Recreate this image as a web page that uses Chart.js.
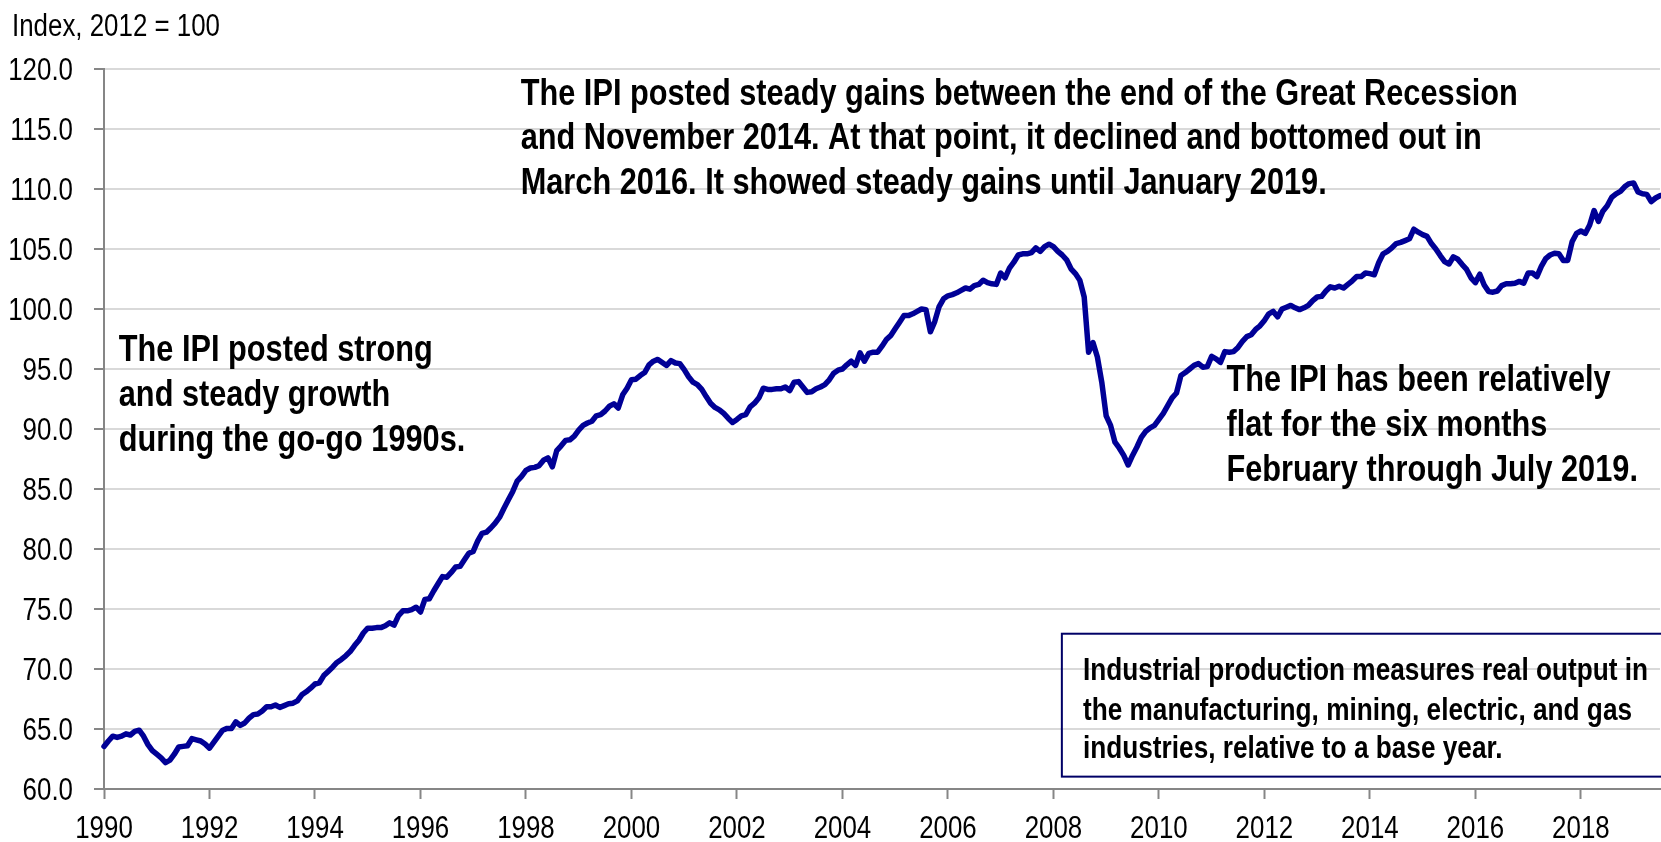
<!DOCTYPE html>
<html>
<head>
<meta charset="utf-8">
<script src="https://cdn.jsdelivr.net/npm/chart.js@4.4.1/dist/chart.umd.min.js"></script>
<style>
  html, body { margin: 0; padding: 0; background: #fff; }
  canvas { display: block; }
</style>
</head>
<body>
<canvas id="ipiCanvas" width="1661" height="842"></canvas>
<script>
// monthly index values, Jan 1990 .. Jul 2019 (2012 = 100)
const startYear = 1990;
const ipi1990s = [
  63.55, 64.0, 64.4, 64.3, 64.4, 64.6, 64.5, 64.8, 64.9, 64.4, 63.7, 63.2,
  62.9, 62.6, 62.2, 62.4, 62.9, 63.5, 63.55, 63.6, 64.2, 64.1, 64.0, 63.75,
  63.4, 63.9, 64.4, 64.9, 65.05, 65.05, 65.6, 65.3, 65.5, 65.9, 66.2, 66.25,
  66.5, 66.85, 66.85, 67.0, 66.8, 66.95, 67.1, 67.15, 67.35, 67.85, 68.1, 68.4,
  68.75, 68.85, 69.45, 69.8, 70.15, 70.55, 70.8, 71.1, 71.45, 71.95, 72.4, 73.0,
  73.4, 73.4, 73.45, 73.45, 73.6, 73.85, 73.65, 74.45, 74.85, 74.85, 74.95, 75.15,
  74.75, 75.8, 75.85, 76.5, 77.1, 77.7, 77.65, 78.05, 78.5, 78.55, 79.1, 79.65,
  79.8, 80.65, 81.3, 81.4, 81.75, 82.15, 82.65, 83.4, 84.1, 84.8, 85.65, 86.05,
  86.55, 86.75, 86.8, 86.95, 87.4, 87.6, 86.85, 88.2, 88.6, 89.05, 89.1, 89.4,
  89.9, 90.3, 90.5, 90.65, 91.1, 91.2, 91.5, 91.9, 92.1, 91.75, 92.85, 93.4
];
const ipi2000s = [
  94.1, 94.15, 94.45, 94.7, 95.35, 95.65, 95.8, 95.55, 95.3, 95.7, 95.5, 95.45,
  94.95, 94.35, 93.9, 93.7, 93.3, 92.7, 92.15, 91.8, 91.6, 91.3, 90.9, 90.55,
  90.8, 91.1, 91.2, 91.85, 92.15, 92.6, 93.4, 93.3, 93.3, 93.35, 93.35, 93.5,
  93.2, 93.9, 93.95, 93.5, 93.05, 93.1, 93.35, 93.5, 93.7, 94.1, 94.65, 94.9,
  95.0, 95.35, 95.65, 95.3, 96.35, 95.65, 96.3, 96.4, 96.4, 96.9, 97.45, 97.8,
  98.35, 98.9, 99.45, 99.45, 99.6, 99.8, 100.0, 99.95, 98.1, 98.95, 100.2, 100.85,
  101.1, 101.2, 101.35, 101.55, 101.75, 101.65, 101.95, 102.05, 102.4, 102.2, 102.1, 102.05,
  103.0, 102.6, 103.4, 103.9, 104.5, 104.6, 104.6, 104.7, 105.1, 104.8, 105.2, 105.4,
  105.2, 104.8, 104.5, 104.1, 103.35, 102.95, 102.4, 101.0, 96.4, 97.2, 96.0, 93.9,
  91.1, 90.3, 88.9, 88.4, 87.8, 87.0, 87.8, 88.5, 89.3, 89.8, 90.1, 90.3
];
const ipi2010s = [
  90.8, 91.3, 91.95, 92.6, 93.0, 94.45, 94.7, 95.0, 95.3, 95.45, 95.15, 95.2,
  96.05, 95.85, 95.55, 96.45, 96.4, 96.45, 96.8, 97.3, 97.7, 97.85, 98.3, 98.6,
  99.05, 99.6, 99.8, 99.35, 100.0, 100.15, 100.3, 100.1, 99.95, 100.1, 100.3, 100.7,
  101.0, 101.05, 101.5, 101.85, 101.75, 101.9, 101.75, 102.05, 102.35, 102.7, 102.7, 103.0,
  102.95, 102.85, 103.85, 104.6, 104.8, 105.1, 105.45, 105.55, 105.7, 105.85, 106.65, 106.4,
  106.2, 106.05, 105.45, 105.0, 104.45, 103.95, 103.75, 104.35, 104.15, 103.7, 103.3, 102.6,
  102.2, 102.9, 102.0, 101.45, 101.4, 101.5, 101.95, 102.1, 102.1, 102.15, 102.3, 102.15,
  103.0, 103.0, 102.7, 103.55, 104.2, 104.5, 104.65, 104.6, 104.05, 104.05, 105.6, 106.3,
  106.5, 106.3, 107.0, 108.2, 107.3, 108.15, 108.6, 109.3, 109.6, 109.8, 110.2, 110.45,
  110.5, 109.75, 109.6, 109.55, 108.95, 109.25, 109.45
];

const xTicks = [1990, 1992, 1994, 1996, 1998, 2000, 2002, 2004, 2006, 2008, 2010, 2012, 2014, 2016, 2018];
const yTicks = [60, 65, 70, 75, 80, 85, 90, 95, 100, 105, 110, 115, 120];

const unitLabel = 'Index, 2012 = 100';
const noteNineties = ['The IPI posted strong', 'and steady growth', 'during the go-go 1990s.'];
const noteRecovery = [
  'The IPI posted steady gains between the end of the Great Recession',
  'and November 2014. At that point, it declined and bottomed out in',
  'March 2016. It showed steady gains until January 2019.'
];
const noteFlat = ['The IPI has been relatively', 'flat for the six months', 'February through July 2019.'];
const boxNote = [
  'Industrial production measures real output in',
  'the manufacturing, mining, electric, and gas',
  'industries, relative to a base year.'
];

// no Arial Narrow here: squeeze Liberation Sans horizontally instead
const FAMILY = "'Liberation Sans', Arial, sans-serif";
const NARROW = 0.835;
const AXIS_GRAY = '#868686';

const points = [...ipi1990s, ...ipi2000s, ...ipi2010s].map((v, i) => ({ x: startYear + i / 12, y: v }));

const notesPlugin = {
  id: 'notes',
  afterDraw(chart) {
    const { ctx, scales: { x, y } } = chart;

    const say = (text, px, py, align = 'left') => {
      ctx.save();
      ctx.translate(px, py);
      ctx.scale(NARROW, 1);
      ctx.textAlign = align;
      ctx.fillText(text, 0, 0);
      ctx.restore();
    };
    const writeLines = (lines, xv, yvs) => {
      lines.forEach((t, i) => say(t, x.getPixelForValue(xv), y.getPixelForValue(yvs[i])));
    };

    ctx.save();
    ctx.fillStyle = '#000';
    ctx.textBaseline = 'alphabetic';

    // axis labels
    ctx.font = `31px ${FAMILY}`;
    say(unitLabel, 12, 36);
    yTicks.forEach(v => say(v.toFixed(1), 73, y.getPixelForValue(v) + 11, 'right'));
    xTicks.forEach(v => say(String(v), x.getPixelForValue(v), 838, 'center'));

    // annotations
    ctx.font = `bold 36.8px ${FAMILY}`;
    writeLines(noteNineties, 1990.28, [95.7, 91.94, 88.2]);
    writeLines(noteRecovery, 1997.9, [117.03, 113.33, 109.6]);
    writeLines(noteFlat, 2011.28, [93.13, 89.38, 85.63]);

    // definition box, right side runs off the canvas
    const bx0 = x.getPixelForValue(2008.16);
    const bx1 = x.getPixelForValue(2019.56);
    const by0 = y.getPixelForValue(72.94);
    const by1 = y.getPixelForValue(61.03);
    ctx.strokeStyle = '#000066';
    ctx.lineWidth = 2;
    ctx.strokeRect(bx0, by0, bx1 - bx0, by1 - by0);

    ctx.font = `bold 31.4px ${FAMILY}`;
    writeLines(boxNote, 2008.56, [69.11, 65.78, 62.58]);
    ctx.restore();
  }
};

new Chart(document.querySelector('#ipiCanvas').getContext('2d'), {
  type: 'line',
  data: {
    datasets: [{
      label: 'IPI',
      data: points,
      borderColor: '#000096',
      backgroundColor: '#000096',
      borderWidth: 5.5,
      pointRadius: 0,
      tension: 0,
      borderJoinStyle: 'round',
      borderCapStyle: 'round',
      clip: false
    }]
  },
  options: {
    responsive: false,
    animation: false,
    layout: {
      padding: { top: 69, right: 1, left: 0, bottom: 0 }
    },
    plugins: {
      legend: { display: false },
      tooltip: { enabled: false }
    },
    scales: {
      x: {
        type: 'linear',
        min: 1990,
        max: 2019.5,
        afterBuildTicks: (scale) => { scale.ticks = xTicks.map(v => ({ value: v })); },
        afterFit: (scale) => { scale.height = 53; },
        ticks: { display: false },
        grid: {
          drawOnChartArea: false,
          tickLength: 10,
          tickColor: AXIS_GRAY,
          tickWidth: 2
        },
        border: { color: AXIS_GRAY, width: 2 }
      },
      y: {
        min: 60,
        max: 120,
        afterBuildTicks: (scale) => { scale.ticks = yTicks.map(v => ({ value: v })); },
        afterFit: (scale) => { scale.width = 104; },
        ticks: { display: false },
        grid: {
          color: '#d9d9d9',
          lineWidth: 2,
          tickLength: 10,
          tickColor: AXIS_GRAY,
          tickWidth: 2
        },
        border: { color: AXIS_GRAY, width: 2 }
      }
    }
  },
  plugins: [notesPlugin]
});
</script>
</body>
</html>
